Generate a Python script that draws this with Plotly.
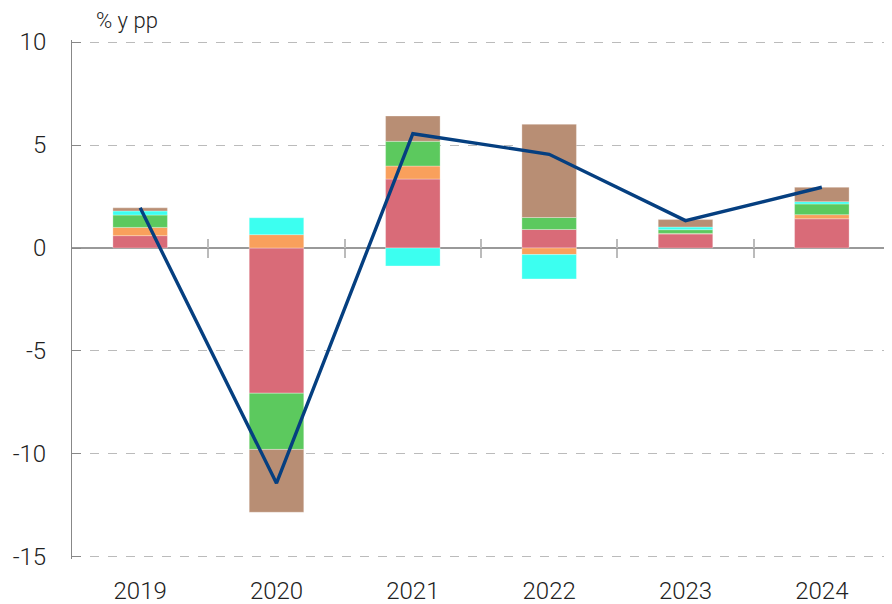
import plotly.graph_objects as go

years = ["2019", "2020", "2021", "2022", "2023", "2024"]
red_vals = [0.60, -7.05, 3.35, 0.90, 0.68, 1.42]
orange_vals = [0.40, 0.65, 0.63, -0.32, 0.03, 0.20]
green_vals = [0.60, -2.73, 1.20, 0.58, 0.18, 0.52]
cyan_vals = [0.20, 0.82, -0.87, -1.18, 0.13, 0.11]
brown_vals = [0.15, -3.05, 1.23, 4.53, 0.36, 0.70]
total_vals = [1.95, -11.42, 5.55, 4.55, 1.33, 2.95]
y_tickvals = [-15, -10, -5, 0, 5, 10]
y_ticktext = ["-15", "-10", "-5", "0", "5", "10"]
boundary_ticks = [0.5, 1.5, 2.5, 3.5, 4.5]

series = [
    ("red", red_vals, "#d96b78"),
    ("orange", orange_vals, "#f9a05c"),
    ("green", green_vals, "#5cc95e"),
    ("cyan", cyan_vals, "#3cfff0"),
    ("brown", brown_vals, "#b88e74"),
]

y_lo, y_hi = -15.1, 10.1
zero_pos = (0 - y_lo) / (y_hi - y_lo)

fig = go.Figure()
for name, vals, col in series:
    fig.add_trace(go.Bar(x=years, y=vals, name=name, width=0.4,
                         marker=dict(color=col, line=dict(width=0.6, color="rgba(255,255,255,0.5)"))))
fig.add_trace(go.Scatter(x=years, y=total_vals, mode="lines", name="total",
                         line=dict(color="#053f80", width=3.4)))

font_family = "Roboto, Liberation Sans, sans-serif"
fig.update_layout(
    barmode="relative",
    width=884, height=596,
    margin=dict(l=64, r=2, t=32, b=45, autoexpand=False),
    plot_bgcolor="white", paper_bgcolor="white",
    showlegend=False,
    font=dict(family=font_family, size=24, color="#222222", weight=300),
    xaxis=dict(type="category", categoryorder="array", categoryarray=years,
               range=[-0.5, 5.5], showgrid=False, showline=False, zeroline=False,
               automargin=False,
               ticks="outside", ticklen=10, tickcolor="rgba(0,0,0,0)",
               tickfont=dict(size=24, family=font_family, weight=300)),
    xaxis2=dict(overlaying="x", anchor="free", position=zero_pos, range=[-0.5, 5.5],
                tickmode="array", tickvals=boundary_ticks, ticks="outside", ticklen=9,
                tickwidth=1.5, tickcolor="#bbbbbb", showticklabels=False, automargin=False,
                showgrid=False, zeroline=False, showline=False),
    xaxis3=dict(overlaying="x", anchor="free", position=zero_pos, range=[-0.5, 5.5],
                tickmode="array", tickvals=boundary_ticks, ticks="inside", ticklen=9,
                tickwidth=1.5, tickcolor="#bbbbbb", showticklabels=False, automargin=False,
                showgrid=False, zeroline=False, showline=False),
    yaxis=dict(range=[y_lo, y_hi], tickmode="array", tickvals=y_tickvals, ticktext=y_ticktext,
               showgrid=True, gridcolor="#bbbbbb", automargin=False,
               griddash="dash", gridwidth=1, zeroline=True, zerolinecolor="#999999",
               zerolinewidth=1.5, showline=True, linecolor="#888888", linewidth=1,
               ticks="inside", ticklen=9, tickcolor="#888888",
               ticklabelstandoff=20,
               tickfont=dict(size=24, family=font_family, weight=300)),
)
# invisible traces so the overlay axes are drawn
fig.add_trace(go.Scatter(x=[0], y=[0], xaxis="x2", mode="markers",
                         marker=dict(opacity=0), hoverinfo="skip", showlegend=False))
fig.add_trace(go.Scatter(x=[0], y=[0], xaxis="x3", mode="markers",
                         marker=dict(opacity=0), hoverinfo="skip", showlegend=False))

fig.add_annotation(text="% y pp", xref="paper", yref="paper", x=0.027, y=1.0,
                   xanchor="left", yanchor="middle", yshift=20, showarrow=False,
                   font=dict(size=22, family=font_family, color="#222222", weight=300))

fig.write_html("out.html")
